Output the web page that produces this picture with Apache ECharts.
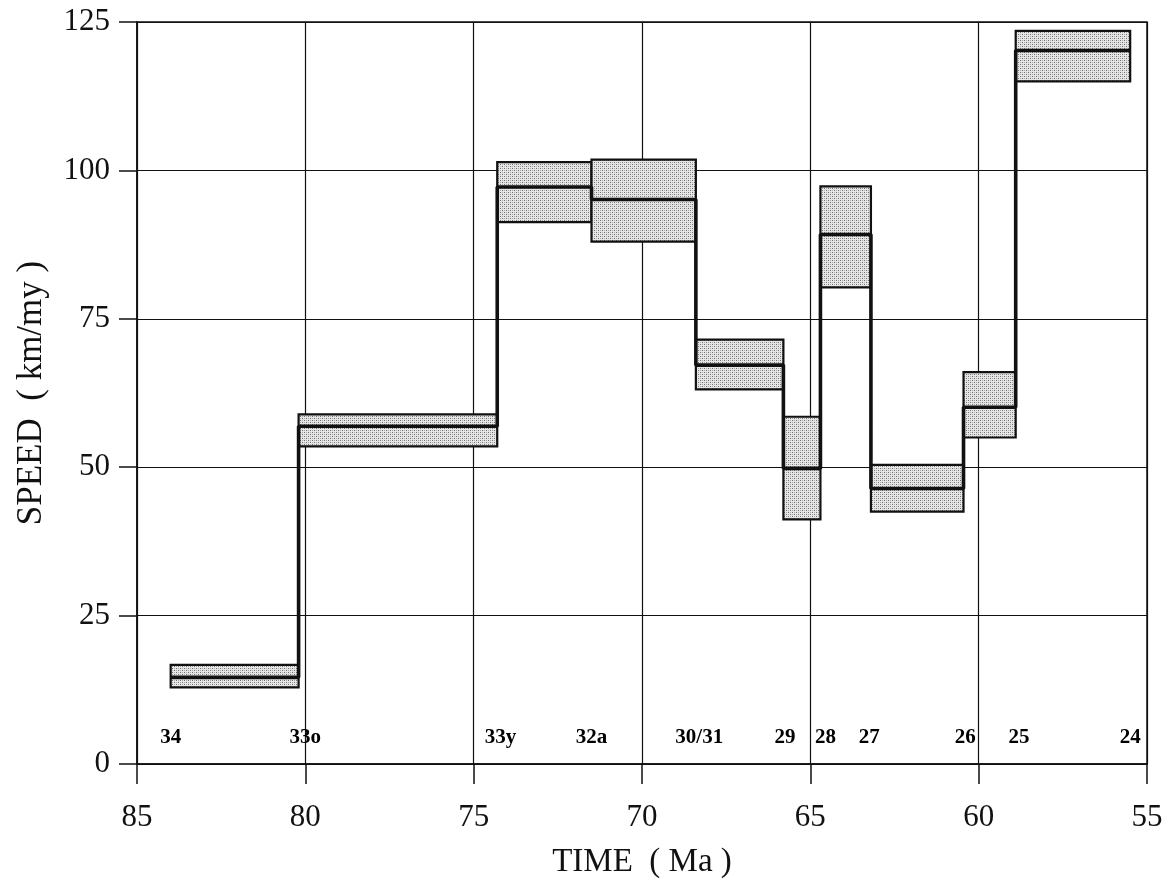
<!DOCTYPE html>
<html>
<head>
<meta charset="utf-8">
<script src="https://cdn.jsdelivr.net/npm/echarts@6/dist/echarts.min.js"></script>
<style>
html,body{margin:0;padding:0;background:#fff;}
#chart{width:1173px;height:882px;}
</style>
</head>
<body>
<div id="chart"></div>
<script>
// Segment boundaries (Ma); segment i spans boundaries[i] -> boundaries[i+1]
const boundaries = [84.0, 80.2, 74.3, 71.5, 68.4, 65.8, 64.7, 63.2, 60.45, 58.9, 55.5];
// Speed (km/my) for each segment
const lowSpeed  = [12.9, 53.5, 91.3, 88.0, 63.1, 41.2, 80.3, 42.5, 55.0, 115.0];
const midSpeed  = [14.6, 56.9, 97.2, 95.1, 67.2, 49.8, 89.2, 46.4, 60.1, 120.2];
const highSpeed = [16.7, 58.9, 101.4, 101.8, 71.5, 58.5, 97.3, 50.4, 66.0, 123.5];
// Magnetic anomaly (chron) labels
const chronNames = ['34', '33o', '33y', '32a', '30/31', '29', '28', '27', '26', '25', '24'];
const chronAges  = [84.0, 80.0, 74.2, 71.5, 68.3, 65.75, 64.55, 63.25, 60.4, 58.8, 55.5];
const chronLabelSpeed = 4.4;
// Axis ticks
const xTicks = [85, 80, 75, 70, 65, 60, 55];
const yTicks = [0, 25, 50, 75, 100, 125];

// stipple pattern
const pc = document.createElement('canvas');
pc.width = 4; pc.height = 4;
const g = pc.getContext('2d');
g.fillStyle = '#e6e6e6'; g.fillRect(0, 0, 4, 4);
g.fillStyle = '#707070';
g.fillRect(0, 0, 1, 1); g.fillRect(2, 2, 1, 1);
g.fillStyle = '#aaaaaa';
g.fillRect(2, 0, 1, 1); g.fillRect(0, 2, 1, 1);
const stipple = { image: pc, repeat: 'repeat' };

const boxData = [];
const stepData = [];
for (let i = 0; i < midSpeed.length; i++) {
  boxData.push([boundaries[i], boundaries[i + 1], lowSpeed[i], highSpeed[i]]);
  stepData.push([boundaries[i], midSpeed[i]]);
  stepData.push([boundaries[i + 1], midSpeed[i]]);
}
const labelData = chronNames.map((n, i) => [chronAges[i], chronLabelSpeed, n]);

const serif = '"Liberation Serif", "DejaVu Serif", serif';
const chart = echarts.init(document.getElementById('chart'), null, { renderer: 'canvas' });
chart.setOption({
  backgroundColor: '#ffffff',
  animation: false,
  grid: { left: 137, right: 26, top: 22, bottom: 118, show: true, borderColor: '#111', borderWidth: 1.5,
    backgroundColor: 'transparent', containLabel: false, outerBoundsMode: 'none' },
  xAxis: {
    type: 'value', inverse: true, min: 55, max: 85, interval: 5,
    name: 'TIME  ( Ma )', nameLocation: 'middle', nameGap: 82,
    nameTextStyle: { fontFamily: serif, fontSize: 33, color: '#111' },
    axisLine: { show: true, lineStyle: { color: '#111', width: 1.5 } },
    axisTick: { show: true, inside: false, length: 20, lineStyle: { color: '#111', width: 1.5 } },
    axisLabel: { fontFamily: serif, fontSize: 31, color: '#111', margin: 38,
      formatter: v => xTicks.indexOf(v) >= 0 ? String(v) : '' },
    splitLine: { show: true, lineStyle: { color: '#111', width: 1.2 } }
  },
  yAxis: {
    type: 'value', min: 0, max: 125, interval: 25,
    name: 'SPEED  ( km/my )', nameLocation: 'middle', nameGap: 88,
    nameTextStyle: { fontFamily: serif, fontSize: 35, color: '#111' },
    axisLine: { show: true, lineStyle: { color: '#111', width: 1.5 } },
    axisTick: { show: true, inside: false, length: 18, lineStyle: { color: '#111', width: 1.5 } },
    axisLabel: { fontFamily: serif, fontSize: 31, color: '#111', margin: 27,
      formatter: v => yTicks.indexOf(v) >= 0 ? String(v) : '' },
    splitLine: { show: true, lineStyle: { color: '#111', width: 1.2 } }
  },
  series: [
    {
      type: 'custom',
      data: boxData,
      z: 3,
      renderItem: function (params, api) {
        const a = api.coord([api.value(0), api.value(3)]);
        const b = api.coord([api.value(1), api.value(2)]);
        return {
          type: 'rect',
          shape: { x: Math.min(a[0], b[0]), y: Math.min(a[1], b[1]), width: Math.abs(b[0] - a[0]), height: Math.abs(b[1] - a[1]) },
          style: { fill: stipple, stroke: '#111', lineWidth: 2.2 }
        };
      }
    },
    {
      type: 'line',
      data: stepData,
      z: 5,
      symbol: 'none',
      lineStyle: { color: '#111', width: 3.6 },
      clip: false
    },
    {
      type: 'custom',
      data: labelData,
      z: 6,
      renderItem: function (params, api) {
        const p = api.coord([api.value(0), api.value(1)]);
        return {
          type: 'text',
          x: p[0], y: p[1],
          style: {
            text: labelData[params.dataIndex][2],
            fill: '#000', align: 'center', verticalAlign: 'middle',
            font: 'bold 21px ' + serif
          }
        };
      }
    }
  ]
});
</script>
</body>
</html>
